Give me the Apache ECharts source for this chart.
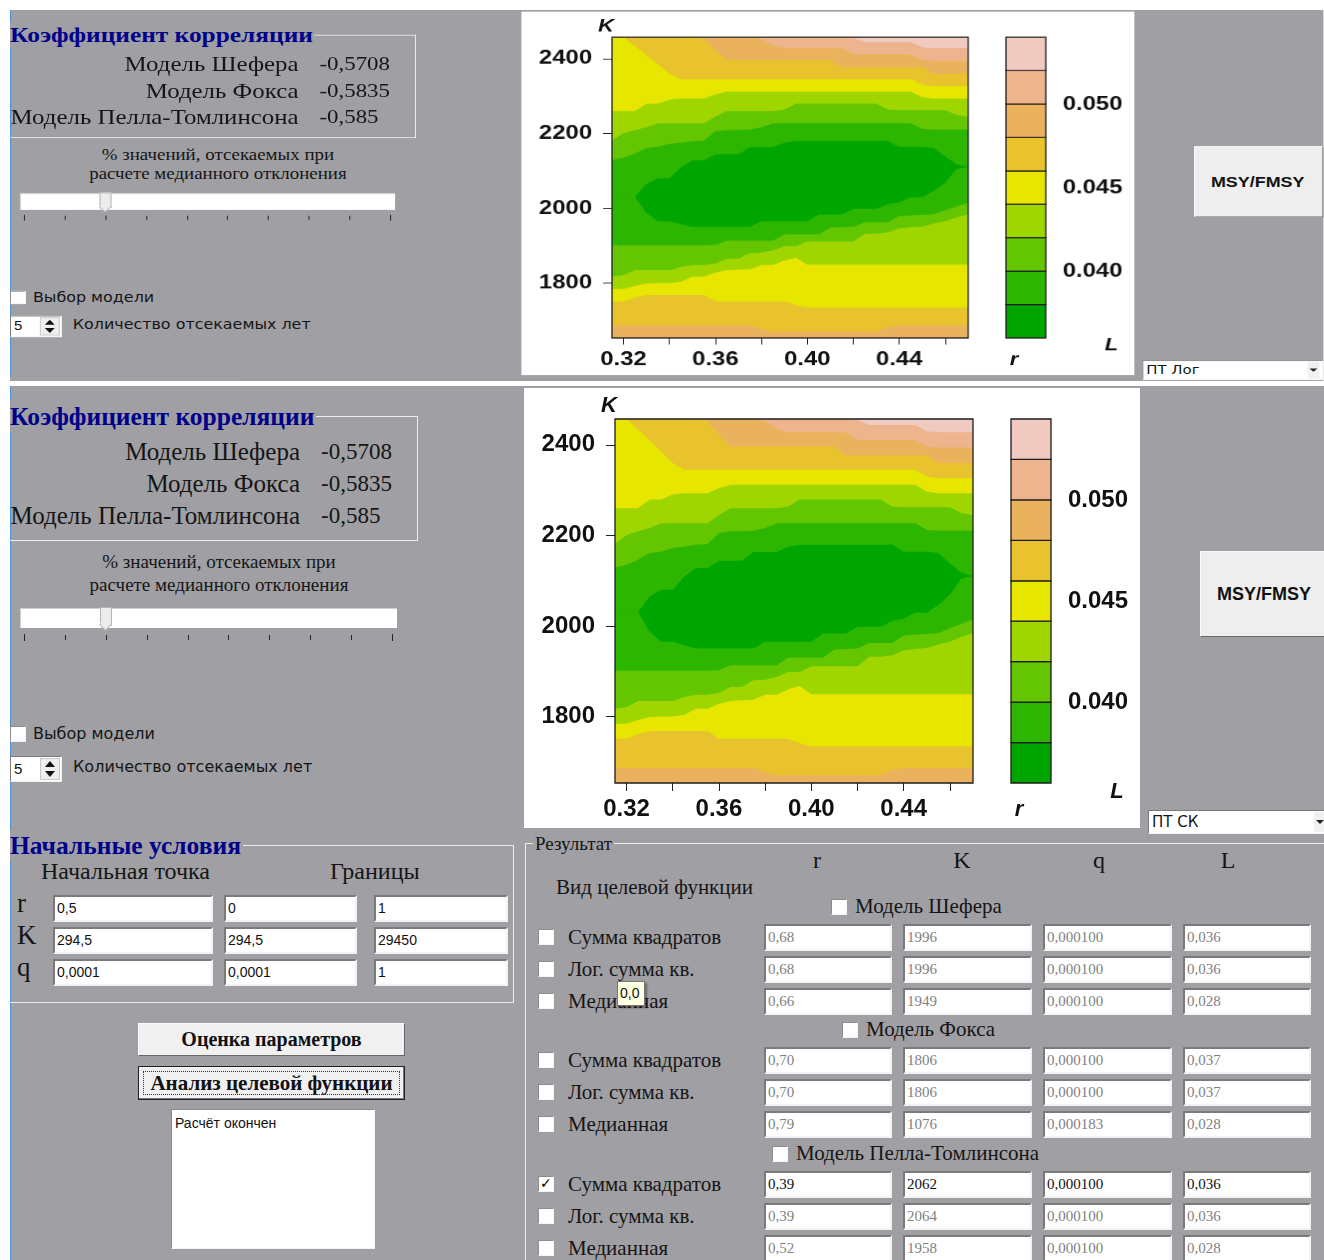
<!DOCTYPE html>
<html><head><meta charset="utf-8">
<script src="https://cdn.jsdelivr.net/npm/echarts@6/dist/echarts.min.js"></script>
<style>
html,body{margin:0;padding:0;background:#fff;}
body{width:1324px;height:1260px;overflow:hidden;position:relative;}
.wrap{position:absolute;left:0;width:1324px;overflow:hidden;}
.panel{position:absolute;left:0;top:0;width:1324px;height:880px;}
.a{position:absolute;white-space:nowrap;box-sizing:border-box;}
.serif{font-family:"Liberation Serif","Times New Roman",serif;color:#151515;}
.sans{font-family:"DejaVu Sans",sans-serif;color:#151515;}
.arial{font-family:"Liberation Sans",Arial,sans-serif;color:#111;}
.ttl{font-family:"Liberation Serif",serif;font-weight:bold;color:#00008b;background:#a0a0a4;padding-right:2px;}
</style></head>
<body>
<div id="root"></div>
<script>
// ---- contour data: K value where L crosses each level, for every r sample ----
const r_grid = [0.315,0.320,0.325,0.330,0.335,0.340,0.345,0.350,0.355,0.360,0.365,0.370,0.375,0.380,0.385,0.390,0.395,0.400,0.405,0.410,0.415,0.420,0.425,0.430,0.435,0.440,0.445,0.450,0.455,0.460,0.465,0.470];
const K_min = 1653, K_max = 2457;
const K_lo_048 = [1686,1686,1686,1686,1686,1686,1686,1686,1686,1686,1686,1686,1686,1677,1670,1670,1670,1670,1670,1670,1670,1670,1670,1670,1682,1686,1686,1686,1686,1686,1686,1686];
const K_lo_046 = [1751,1751,1761,1768,1768,1768,1768,1768,1768,1751,1751,1751,1751,1751,1751,1751,1741,1734,1734,1734,1734,1734,1734,1734,1734,1734,1734,1734,1734,1734,1734,1734];
const K_lo_044 = [1784,1784,1792,1799,1800,1800,1803,1817,1817,1828,1834,1836,1837,1848,1848,1860,1867,1849,1849,1849,1849,1849,1849,1849,1849,1849,1849,1849,1849,1849,1849,1849];
const K_lo_042 = [1817,1821,1834,1834,1834,1834,1843,1848,1848,1852,1865,1865,1880,1881,1887,1898,1898,1911,1911,1911,1911,1911,1932,1932,1935,1946,1949,1951,1959,1965,1976,1983];
const K_lo_040 = [1901,1901,1901,1901,1901,1901,1901,1901,1901,1902,1913,1913,1913,1913,1913,1930,1930,1930,1930,1948,1949,1950,1962,1962,1962,1979,1981,1982,1984,1995,2005,2014];
const K_lo_038 = [2030,2030,2030,1987,1965,1965,1957,1950,1950,1950,1950,1950,1950,1965,1965,1965,1965,1965,1983,1983,1983,1998,1998,1998,2011,2016,2029,2029,2046,2069,2105,2110];
const K_hi_038 = [2030,2030,2030,2065,2080,2080,2109,2128,2128,2144,2144,2144,2163,2163,2163,2175,2179,2179,2179,2179,2179,2179,2179,2179,2179,2164,2164,2164,2161,2138,2117,2110];
const K_hi_040 = [2129,2135,2146,2161,2164,2172,2175,2179,2181,2205,2209,2209,2210,2216,2227,2227,2227,2227,2227,2227,2227,2227,2227,2227,2227,2227,2227,2212,2210,2210,2210,2210];
const K_hi_042 = [2181,2201,2209,2216,2227,2227,2227,2227,2227,2245,2260,2260,2260,2260,2260,2264,2279,2279,2279,2279,2279,2279,2279,2279,2264,2262,2262,2262,2262,2262,2249,2245];
const K_hi_044 = [2260,2260,2260,2279,2279,2290,2293,2293,2293,2304,2312,2312,2312,2312,2312,2312,2312,2312,2312,2312,2312,2312,2312,2312,2312,2312,2312,2297,2293,2293,2293,2293];
const K_hi_046 = [2457,2457,2434,2409,2385,2360,2345,2345,2345,2345,2345,2345,2345,2345,2345,2345,2345,2345,2345,2345,2345,2345,2345,2345,2345,2345,2345,2330,2326,2326,2326,2326];
const K_hi_048 = [2457,2457,2457,2457,2457,2457,2457,2457,2452,2423,2396,2396,2396,2396,2396,2396,2396,2396,2396,2396,2377,2377,2377,2377,2377,2377,2377,2377,2360,2360,2360,2360];
const K_hi_050 = [2457,2457,2457,2457,2457,2457,2457,2457,2457,2457,2457,2457,2457,2453,2435,2428,2428,2428,2428,2428,2428,2411,2411,2411,2411,2411,2411,2396,2394,2394,2394,2394];
const K_hi_052 = [2457,2457,2457,2457,2457,2457,2457,2457,2457,2457,2457,2457,2457,2457,2457,2457,2457,2457,2457,2457,2457,2455,2444,2444,2444,2444,2444,2430,2428,2428,2428,2428];
const L_levels = [0.036,0.038,0.040,0.042,0.044,0.046,0.048,0.050,0.052,0.054];
const band_colors = ['#00A600','#2DB600','#63C600','#A0D600','#E6E600','#E8C32E','#EBB25E','#EDB48E','#F0C9C0'];
const x_ticks = [0.32,0.34,0.36,0.38,0.40,0.42,0.44,0.46];
const x_labels = [0.32,0.36,0.40,0.44];
const y_ticks = [1800,2000,2200,2400];
const cbar_ticks = [0.040,0.045,0.050];

// ---- form texts ----
const corr_models = ['Модель Шефера','Модель Фокса','Модель Пелла-Томлинсона'];
const corr_values = ['-0,5708','-0,5835','-0,585'];
const init_rows = ['r','K','q'];
const init_values = [['0,5','0','1'],['294,5','294,5','29450'],['0,0001','0,0001','1']];
const res_models = ['Модель Шефера','Модель Фокса','Модель Пелла-Томлинсона'];
const res_kinds = ['Сумма квадратов','Лог. сумма кв.','Медианная'];
const res_values = [
  [['0,68','1996','0,000100','0,036'],['0,68','1996','0,000100','0,036'],['0,66','1949','0,000100','0,028']],
  [['0,70','1806','0,000100','0,037'],['0,70','1806','0,000100','0,037'],['0,79','1076','0,000183','0,028']],
  [['0,39','2062','0,000100','0,036'],['0,39','2064','0,000100','0,036'],['0,52','1958','0,000100','0,028']]
];

const GRAY = '#a0a0a4';
function box(x,y,w,h,st){return `<div class="a" style="left:${x}px;top:${y}px;width:${w}px;height:${h}px;${st||''}"></div>`;}
function txt(x,yc,t,size,cls,extra){const lh=Math.round(size*1.2);return `<div class="a ${cls}" style="left:${x}px;top:${(yc-lh/2).toFixed(1)}px;font-size:${size}px;line-height:${lh}px;${extra||''}">${t}</div>`;}
function txtR(xr,yc,t,size,cls,extra){const lh=Math.round(size*1.2);return `<div class="a ${cls}" style="left:${xr-500}px;width:500px;text-align:right;top:${(yc-lh/2).toFixed(1)}px;font-size:${size}px;line-height:${lh}px;${extra||''}">${t}</div>`;}
function txtC(xc,yc,t,size,cls,extra){const lh=Math.round(size*1.2);return `<div class="a ${cls}" style="left:${xc-200}px;width:400px;text-align:center;top:${(yc-lh/2).toFixed(1)}px;font-size:${size}px;line-height:${lh}px;${extra||''}">${t}</div>`;}
function cb(x,y,checked){
  let s = box(x,y,16,16,'background:#fff;border:1px solid;border-color:#8c8c8c #f4f4f4 #f4f4f4 #8c8c8c;');
  if(checked) s += `<div class="a" style="left:${x+2}px;top:${y-1}px;font:bold 14px 'DejaVu Sans';color:#000;">✓</div>`;
  return s;
}
function inp(x,y,w,h,t,size,cls,color){
  return `<div class="a ${cls}" style="left:${x}px;top:${y}px;width:${w}px;height:${h}px;background:#fff;border:2px solid;border-color:#7a7a7a #f3f3f3 #f3f3f3 #7a7a7a;font-size:${size}px;line-height:${h-4}px;padding-left:2px;color:${color||'#111'};">${t}</div>`;
}

function panelHTML(chartId, selText){
  let h = '';
  h += box(10,0,1320,880,'background:'+GRAY+';');
  h += box(10,0,1,880,'background:#4a8fd6;');
  // group: correlation
  h += box(10,30,408,125,'border-top:1px solid #ececef;border-right:1px solid #ececef;border-bottom:1px solid #ececef;');
  h += txt(10,30,'Коэффициент корреляции',25.5,'ttl');
  for(let i=0;i<3;i++){
    h += txtR(300,66+32*i,corr_models[i],25,'serif');
    h += txt(321,66+32*i,corr_values[i],23,'serif');
  }
  h += `<div class="a serif" style="left:20px;width:398px;text-align:center;top:164px;font-size:19px;line-height:23px;">% значений, отсекаемых при<br>расчете медианного отклонения</div>`;
  // slider
  h += box(20,222,377,20,'background:#fff;border-top:1px solid #cfcfcf;border-left:1px solid #cfcfcf;');
  h += box(100,221,12,19,'background:#ececec;border:1px solid #b5b5b5;border-bottom:none;');
  h += box(101,234,9,9,'background:#ececec;border-right:1px solid #b5b5b5;border-bottom:1px solid #b5b5b5;transform:rotate(45deg);');
  [24,65,106,147,188,228,269,310,351,392].forEach((x,i)=>{h += box(x,(i===0||i===9)?248:249,1,(i===0||i===9)?7:5,'background:#222;');});
  // checkbox + spin
  h += cb(10,340,false);
  h += txt(33,347,'Выбор модели',16,'sans');
  h += box(10,370,52,26,'background:#fff;border:1px solid;border-color:#7a7a7a #f3f3f3 #f3f3f3 #7a7a7a;');
  h += txt(14,383,'5',15,'arial');
  h += box(40,372,20,22,'background:#efefef;border:1px solid #c8c8c8;');
  h += `<div class="a" style="left:45px;top:375px;width:0;height:0;border-left:5px solid transparent;border-right:5px solid transparent;border-bottom:6px solid #111;"></div>`;
  h += `<div class="a" style="left:45px;top:385px;width:0;height:0;border-left:5px solid transparent;border-right:5px solid transparent;border-top:6px solid #111;"></div>`;
  h += txt(73,380,'Количество отсекаемых лет',16,'sans');
  // chart box
  h += `<div class="a" id="${chartId}" style="left:524px;top:2px;width:616px;height:440px;background:#fff;"></div>`;
  // button + select
  h += `<div class="a arial" style="left:1200px;top:165px;width:130px;height:86px;background:#eeeeee;border:1px solid;border-color:#fafafa #6a6a6a #6a6a6a #fafafa;font-weight:bold;font-size:18px;line-height:84px;text-align:center;padding-right:2px;">MSY/FMSY</div>`;
  h += `<div class="a sans" style="left:1148px;top:424px;width:182px;height:24px;background:#fff;border:1px solid;border-color:#7a7a7a #f3f3f3 #f3f3f3 #7a7a7a;font-size:15px;line-height:22px;padding-left:3px;">${selText}</div>`;
  h += box(1314,426,12,20,'background:#f0f0f0;');
  h += `<div class="a" style="left:1316px;top:434px;width:0;height:0;border-left:4px solid transparent;border-right:4px solid transparent;border-top:4px solid #222;"></div>`;
  // group: initial conditions
  h += box(10,459,504,158,'border-top:1px solid #ececef;border-right:1px solid #ececef;border-bottom:1px solid #ececef;');
  h += txt(10,459,'Начальные условия',25.5,'ttl');
  h += txt(41,485,'Начальная точка',24,'serif');
  h += txt(330,485,'Границы',24,'serif');
  const colsX=[[53,160],[224,133],[374,134]], rowsY=[509,541,573];
  for(let i=0;i<3;i++){
    h += txt(17,rowsY[i]+8,init_rows[i],27,'serif');
    for(let j=0;j<3;j++) h += inp(colsX[j][0],rowsY[i],colsX[j][1],27,init_values[i][j],14,'arial');
  }
  h += `<div class="a serif" style="left:138px;top:637px;width:267px;height:33px;background:#f0f0f0;border:1px solid;border-color:#fcfcfc #666 #666 #fcfcfc;font-weight:bold;font-size:20px;line-height:31px;text-align:center;color:#111;">Оценка параметров</div>`;
  h += `<div class="a serif" style="left:138px;top:680px;width:267px;height:34px;background:#f0f0f0;border:1px solid #222;box-shadow:inset -1px -1px 0 #777;font-weight:bold;font-size:21px;line-height:32px;text-align:center;color:#111;">Анализ целевой функции</div>`;
  h += box(143,685,257,24,'border:1px dotted #333;');
  h += box(171,723,204,140,'background:#fff;border:1px solid;border-color:#8a8a8a #f3f3f3 #f3f3f3 #8a8a8a;');
  h += txt(175,737,'Расчёт окончен',14,'arial');
  // group: results
  h += box(525,457,810,430,'border-top:1px solid #ececef;border-left:1px solid #ececef;');
  h += txt(533,457,'Результат',19,'serif','background:'+GRAY+';padding:0 2px;');
  [['r',817],['K',962],['q',1099],['L',1228]].forEach(a=>{h += txtC(a[1],474,a[0],24,'serif');});
  h += txt(556,501,'Вид целевой функции',21,'serif');
  const heads=[[831,513],[842,636],[772,760]];
  const rowTops=[[538,570,602],[661,693,725],[785,817,849]];
  const resCols=[[764,128],[903,129],[1043,129],[1183,128]];
  for(let m=0;m<3;m++){
    h += cb(heads[m][0],heads[m][1],false);
    h += txt(heads[m][0]+24,heads[m][1]+7,res_models[m],21,'serif');
    for(let k=0;k<3;k++){
      const y=rowTops[m][k];
      const active = (m===2 && k===0);
      h += cb(538,y+5,active);
      h += txt(568,y+13,res_kinds[k],21,'serif');
      for(let c=0;c<4;c++) h += inp(resCols[c][0],y,resCols[c][1],27,res_values[m][k][c],15,'serif',active?'#111':'#7f7f7f');
    }
  }
  // tooltip
  h += `<div class="a arial" style="left:617px;top:595px;width:28px;height:25px;background:#ffffe1;border:1px solid #767676;box-shadow:2px 2px 2px rgba(0,0,0,0.35);font-size:14px;line-height:23px;padding-left:2px;">0,0</div>`;
  return h;
}

document.getElementById('root').innerHTML =
  `<div class="wrap" style="top:10px;height:371px;"><div class="panel" style="transform-origin:10px 0;transform:scale(0.995,0.826);filter:blur(0.45px);">${panelHTML('chartTop','ПТ Лог')}</div></div>` +
  `<div class="wrap" style="top:386px;height:874px;"><div class="panel">${panelHTML('chartBottom','ПТ СК')}</div></div>`;

function makeOption(){
  const bounds=[K_lo_048,K_lo_046,K_lo_044,K_lo_042,K_lo_040,K_lo_038,K_hi_038,K_hi_040,K_hi_042,K_hi_044,K_hi_046,K_hi_048,K_hi_050,K_hi_052];
  const layerBand=[6,5,4,3,2,1,0,1,2,3,4,5,6,7,8];
  const contourData=[];
  for(let j=14;j>=0;j--) contourData.push([r_grid[0],K_min,j]);
  contourData.push([r_grid[0],K_min,-1]);
  const cbarData=band_colors.map((c,k)=>[0.5,L_levels[k],k]);
  const lbl={fontFamily:'Liberation Sans',fontWeight:'bold',fontSize:24,color:'#111'};
  const tick={show:true,lineStyle:{color:'#222',width:1}};
  return {
    animation:false,
    grid:[{left:91,top:31,width:358,height:364},{left:487,top:31,width:40,height:364}],
    xAxis:[
      {type:'value',gridIndex:0,min:0.315,max:0.47,axisLine:{show:false},splitLine:{show:false},
        axisTick:Object.assign({customValues:x_ticks,length:8},tick),
        axisLabel:Object.assign({customValues:x_labels,margin:14,formatter:v=>Number(v).toFixed(2)},lbl)},
      {type:'value',gridIndex:1,min:0,max:1,show:false}
    ],
    yAxis:[
      {type:'value',gridIndex:0,min:K_min,max:K_max,axisLine:{show:false},splitLine:{show:false},
        axisTick:Object.assign({customValues:y_ticks,length:9},tick),
        axisLabel:Object.assign({customValues:y_ticks,margin:20,formatter:v=>String(Math.round(v))},lbl)},
      {type:'value',gridIndex:1,position:'right',min:0.036,max:0.054,axisLine:{show:false},splitLine:{show:false},
        axisTick:Object.assign({customValues:cbar_ticks,length:9},tick),
        axisLabel:Object.assign({customValues:cbar_ticks,margin:17,formatter:v=>Number(v).toFixed(3)},lbl)}
    ],
    series:[
      {type:'custom',xAxisIndex:0,yAxisIndex:0,silent:true,data:contourData,
        renderItem:function(params,api){
          const j=api.value(2);
          const n=r_grid.length;
          if(j<0){
            const p0=api.coord([r_grid[0],K_max]), p1=api.coord([r_grid[n-1],K_min]);
            return {type:'rect',shape:{x:p0[0],y:p0[1],width:p1[0]-p0[0],height:p1[1]-p0[1]},style:{fill:null,stroke:'#1c1c1c',lineWidth:1.3}};
          }
          const pts=[];
          for(let i=0;i<n;i++) pts.push(api.coord([r_grid[i], j===14?K_max:bounds[j][i]]));
          for(let i=n-1;i>=0;i--) pts.push(api.coord([r_grid[i],K_min]));
          return {type:'polygon',shape:{points:pts},style:{fill:band_colors[layerBand[j]]}};
        }},
      {type:'custom',xAxisIndex:1,yAxisIndex:1,silent:true,data:cbarData,
        renderItem:function(params,api){
          const k=api.value(2);
          const p0=api.coord([0,L_levels[k+1]]), p1=api.coord([1,L_levels[k]]);
          return {type:'rect',shape:{x:p0[0],y:p0[1],width:p1[0]-p0[0],height:p1[1]-p0[1]},style:{fill:band_colors[k],stroke:'#1c1c1c',lineWidth:1.3}};
        }}
    ],
    graphic:[
      {type:'text',x:85,y:18,style:{text:'K',font:'italic bold 22px "Liberation Sans"',fill:'#111',align:'center',verticalAlign:'middle'}},
      {type:'text',x:495,y:422,style:{text:'r',font:'italic bold 22px "Liberation Sans"',fill:'#111',align:'center',verticalAlign:'middle'}},
      {type:'text',x:593,y:404,style:{text:'L',font:'italic bold 22px "Liberation Sans"',fill:'#111',align:'center',verticalAlign:'middle'}}
    ]
  };
}
['chartTop','chartBottom'].forEach(id=>{
  const c=echarts.init(document.getElementById(id),null,{renderer:'canvas'});
  c.setOption(makeOption());
});
</script>
</body></html>
